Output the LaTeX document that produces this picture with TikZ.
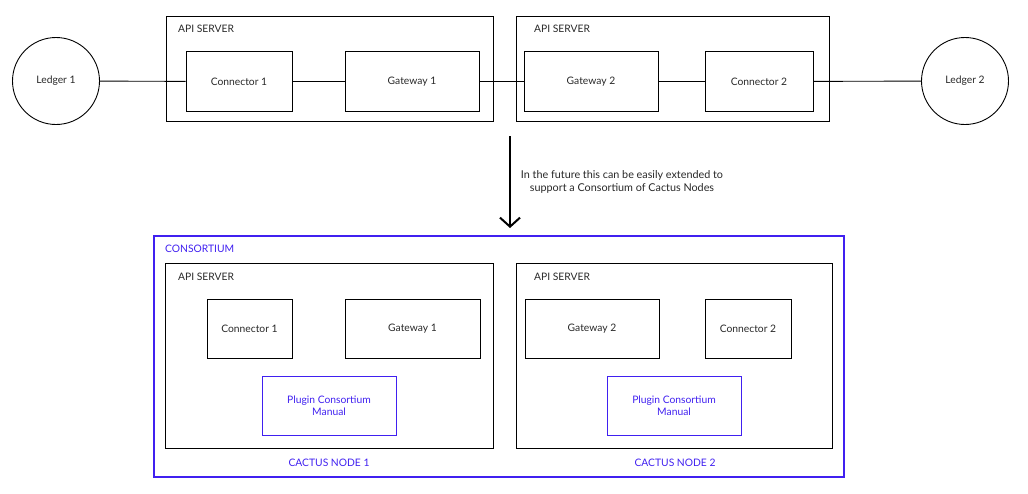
\documentclass[tikz,border=0pt]{standalone}
\usepackage{fontspec}
\setmainfont{Lato}
\usetikzlibrary{arrows.meta}
\definecolor{cblue}{RGB}{64,32,240}
\definecolor{ctext}{RGB}{40,40,40}
\tikzset{
  box/.style={draw=black, line width=0.9pt, rectangle, inner sep=0pt, text=ctext, align=center},
  bluebox/.style={draw=cblue, line width=1pt, rectangle, inner sep=0pt, text=cblue, align=center},
  ledger/.style={draw=black, line width=0.9pt, circle, inner sep=0pt, minimum size=87pt, text=ctext},
  lbl/.style={inner sep=0pt, text=ctext, anchor=west},
  bluelbl/.style={inner sep=0pt, text=cblue},
  link/.style={draw=black, line width=0.9pt},
}
\begin{document}
\begin{tikzpicture}[x=1pt,y=-1pt, font=\fontsize{10.3}{12.5}\selectfont]
\useasboundingbox (0,0) rectangle (1028,493);
% ---------- top ----------
\node[ledger] (l1) at (56,81) {Ledger 1};
\node[ledger] (l2) at (965,81) {Ledger 2};
\node[box, minimum width=327pt, minimum height=105pt] (as1) at (329.5,68.5) {};
\node[lbl] (as1l) at (178,29) {API SERVER};
\node[box, minimum width=313pt, minimum height=105pt] (as2) at (672.5,68.5) {};
\node[lbl] (as2l) at (534,29) {API SERVER};
\node[box, minimum width=106pt, minimum height=60pt] (c1) at (239,81.5) {Connector 1};
\node[box, minimum width=134pt, minimum height=60pt] (g1) at (412,81.5) {Gateway 1};
\node[box, minimum width=134pt, minimum height=60pt] (g2) at (591,81.5) {Gateway 2};
\node[box, minimum width=108pt, minimum height=60pt] (c2) at (759,81.5) {Connector 2};
\draw[link] (l1) -- (c1);
\draw[link] (c1) -- (g1);
\draw[link] (g1) -- (g2);
\draw[link] (g2) -- (c2);
\draw[link] (c2) -- (l2);
% ---------- arrow ----------
\coordinate (a0) at (510,136);
\coordinate (a1) at (510,228);
\draw[line width=2pt, -{Straight Barb[length=9pt,width=20pt,line width=2pt]}] (a0) -- (a1);
\node[inner sep=0pt, text=ctext, align=center, font=\fontsize{10.8}{13.5}\selectfont] (note) at (622,182) {In the future this can be easily extended to\\support a Consortium of Cactus Nodes};
% ---------- bottom ----------
\node[draw=cblue, line width=1.2pt, rectangle, inner sep=0pt, minimum width=690pt, minimum height=241pt] (cons) at (499,356.5) {};
\node[inner sep=0pt, text=cblue, anchor=west] (consl) at (165,249) {CONSORTIUM};
\node[box, minimum width=328pt, minimum height=185pt] (bs1) at (329,356) {};
\node[lbl] (bs1l) at (178,277) {API SERVER};
\node[box, minimum width=316pt, minimum height=185pt] (bs2) at (674,356) {};
\node[lbl] (bs2l) at (534,277) {API SERVER};
\node[box, minimum width=85pt, minimum height=59pt] (bc1) at (249.5,329) {Connector 1};
\node[box, minimum width=135pt, minimum height=59pt] (bg1) at (412.5,329) {Gateway 1};
\node[box, minimum width=134pt, minimum height=59pt] (bg2) at (592,329) {Gateway 2};
\node[box, minimum width=86pt, minimum height=59pt] (bc2) at (748,329) {Connector 2};
\node[bluebox, minimum width=134pt, minimum height=59pt] (p1) at (329,405.5) {Plugin Consortium\\Manual};
\node[bluebox, minimum width=134pt, minimum height=59pt] (p2) at (674,405.5) {Plugin Consortium\\Manual};
\node[bluelbl] (cn1) at (329,463) {CACTUS NODE 1};
\node[bluelbl] (cn2) at (675,463) {CACTUS NODE 2};
\end{tikzpicture}
\end{document}
